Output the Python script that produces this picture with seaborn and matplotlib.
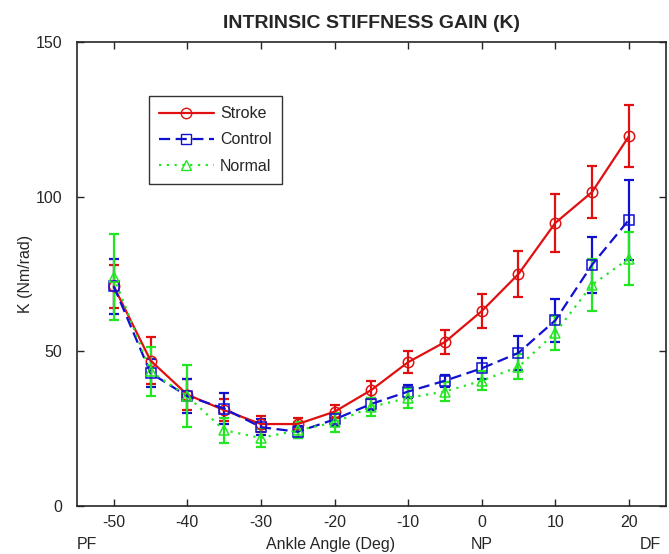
import numpy as np
import pandas as pd
import matplotlib
matplotlib.use("Agg")
import matplotlib.pyplot as plt
import seaborn as sns
from matplotlib.lines import Line2D

angles = [-50, -45, -40, -35, -30, -25, -20, -15, -10, -5, 0, 5, 10, 15, 20]

stroke = [71, 47, 36, 31, 26.5, 26.5, 30.5, 37.5, 46.5, 53, 63, 75, 91.5, 101.5, 119.5]
stroke_err = [7, 7.5, 5, 3.5, 2.5, 2, 2, 2.8, 3.5, 4, 5.5, 7.5, 9.5, 8.5, 10]

control = [71, 43, 35.5, 31.5, 25.5, 24, 28, 33, 37, 40.5, 44.5, 49.5, 60, 78, 92.5]
control_err = [9, 4.5, 5.5, 5, 2.5, 2, 2, 2, 2, 2, 3.5, 5.5, 7, 9, 13]

normal = [74, 43.5, 35.5, 24.5, 22, 24.5, 27, 32, 35, 37, 40.5, 45, 56, 71.5, 80]
normal_err = [14, 8, 10, 4, 3, 2.5, 3, 3, 3.2, 3, 3, 4, 5.5, 8.5, 8.5]

series_names = ["Stroke", "Control", "Normal"]

df = pd.concat([
    pd.DataFrame({"angle": angles, "K": stroke, "err": stroke_err, "group": "Stroke"}),
    pd.DataFrame({"angle": angles, "K": control, "err": control_err, "group": "Control"}),
    pd.DataFrame({"angle": angles, "K": normal, "err": normal_err, "group": "Normal"}),
])

sns.set_style("ticks")
plt.rcParams["font.family"] = ["Liberation Sans", "DejaVu Sans"]
plt.rcParams["axes.unicode_minus"] = False

colors = {"Stroke": "#e01010", "Control": "#1010d0", "Normal": "#22e622"}
markers = {"Stroke": "o", "Control": "s", "Normal": "^"}
dashes = {"Stroke": "", "Control": (5, 2.5), "Normal": (1, 2.5)}
styles = {"Stroke": "-", "Control": (0, (5, 2.5)), "Normal": (0, (1, 2.5))}

fs = 11.5

fig = plt.figure(figsize=(6.69, 5.54), dpi=100)
ax = fig.add_axes([0.1151, 0.0866, 0.8799, 0.8376])

# error bars first, lines + markers on top
for name in series_names:
    d = df[df["group"] == name]
    ax.errorbar(d["angle"], d["K"], yerr=d["err"], fmt="none", ecolor=colors[name],
                elinewidth=1.6, capsize=3.8, capthick=1.6, zorder=2)

sns.lineplot(data=df, x="angle", y="K", hue="group", style="group",
             palette=colors, markers=markers, dashes=dashes,
             hue_order=series_names, style_order=series_names,
             linewidth=1.6, markersize=7.5, markerfacecolor="none",
             markeredgewidth=1.1, ax=ax, legend=False, zorder=3)
for line, name in zip(ax.get_lines()[-3:], series_names):
    line.set_markeredgecolor(colors[name])
    line.set_markerfacecolor("none")

ax.set_xlim(-55, 25)
ax.set_ylim(0, 150)
ax.set_xticks([-50, -40, -30, -20, -10, 0, 10, 20])
ax.set_yticks([0, 50, 100, 150])
ax.tick_params(direction="in", top=True, right=True, length=5, labelsize=fs, width=1)
ax.tick_params(axis="x", pad=6.5)
ax.tick_params(axis="y", pad=10.5)
for s in ax.spines.values():
    s.set_linewidth(1.2)
    s.set_visible(True)
ax.set_xlabel("")
ax.set_ylabel("K (Nm/rad)", fontsize=fs)
ax.yaxis.set_label_coords(-0.074, 0.5)
ax.set_title("INTRINSIC STIFFNESS GAIN (K)", fontsize=14, fontweight="bold", pad=10)

# bottom labels: PF ... Ankle Angle (Deg) ... NP ... DF
tr = ax.get_xaxis_transform()
ax.text(-55, -0.093, "PF", transform=tr, ha="left", va="baseline", fontsize=fs)
ax.text(-20.5, -0.093, "Ankle Angle (Deg)", transform=tr, ha="center", va="baseline", fontsize=fs)
ax.text(0, -0.093, "NP", transform=tr, ha="center", va="baseline", fontsize=fs)
ax.text(22.95, -0.093, "DF", transform=tr, ha="center", va="baseline", fontsize=fs)

handles = [Line2D([], [], color=colors[n], marker=markers[n], markerfacecolor="none",
                  markersize=7.5, linewidth=1.6, linestyle=styles[n])
           for n in series_names]
leg = ax.legend(handles, series_names, loc="upper left", bbox_to_anchor=(0.122, 0.884),
                frameon=True, fancybox=False, edgecolor="black", fontsize=fs,
                handlelength=3.4, handletextpad=0.4, borderpad=0.65, labelspacing=0.7,
                borderaxespad=0)
leg.get_frame().set_linewidth(1)

fig.savefig("out.png", dpi=100)
